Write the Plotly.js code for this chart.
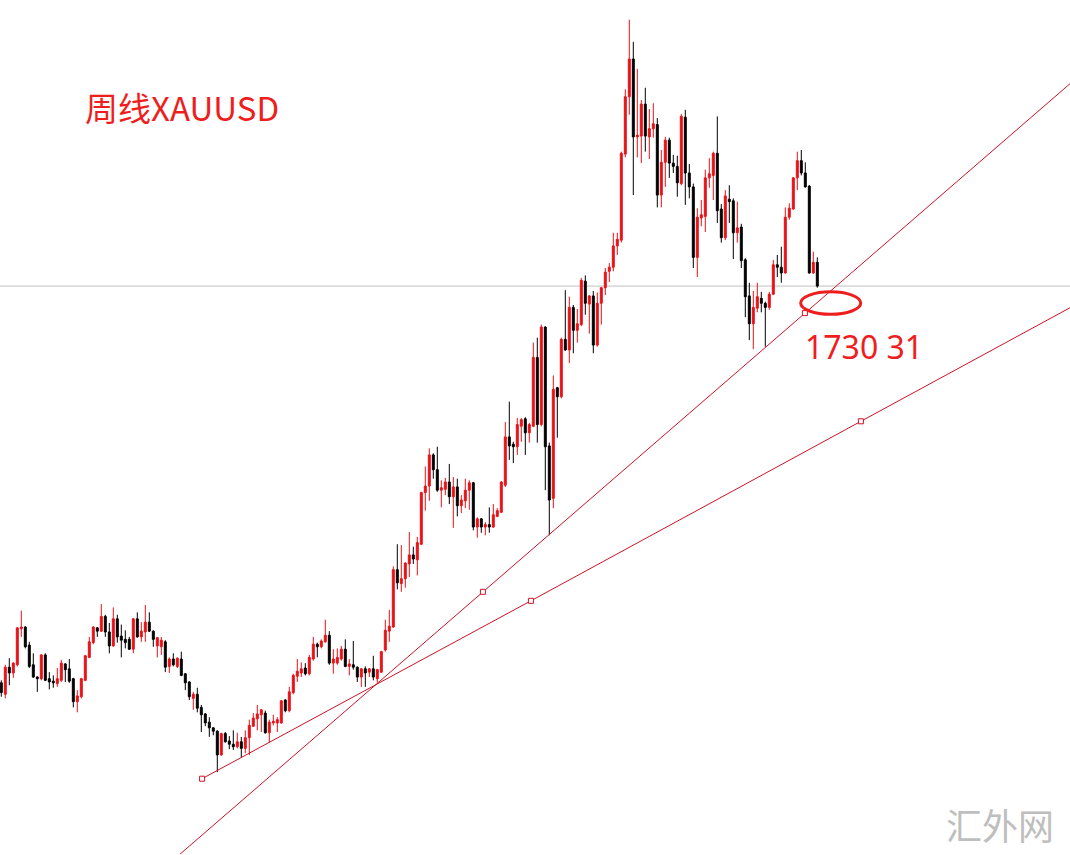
<!DOCTYPE html>
<html>
<head>
<meta charset="utf-8">
<script src="https://cdn.plot.ly/plotly-3.0.1.min.js"></script>
<style>
  html, body { margin: 0; padding: 0; background: #ffffff; }
  #chart { width: 1070px; height: 855px; }
</style>
</head>
<body>
<div id="chart"></div>
<script>
// Weekly XAUUSD candles (price)
const open = [
  1267,1253,1286,1279,1289,1333,1335,1313,1289,1274,
  1272,1301,1272,1269,1266,1270,1290,1284,1272,1244,
  1250,1270,1298,1316,1334,1330,1348,1329,1312,1345,
  1324,1320,1320,1308,1345,1323,1329,1341,1330,1312,
  1311,1317,1287,1296,1287,1296,1278,1268,1248,1253,
  1237,1229,1219,1212,1208,1179,1205,1196,1192,1189,
  1195,1187,1200,1214,1223,1228,1230,1206,1218,1218,
  1218,1246,1233,1255,1275,1279,1285,1278,1296,1314,
  1311,1317,1325,1291,1291,1296,1308,1287,1289,1286,
  1274,1284,1280,1284,1272,1280,1307,1330,1335,1405,
  1388,1394,1412,1423,1417,1436,1499,1507,1545,1527,
  1502,1503,1512,1494,1506,1483,1489,1502,1511,1457,
  1467,1457,1460,1457,1470,1475,1508,1567,1558,1555,
  1580,1589,1572,1580,1664,1582,1701,1556,1492,1627,
  1616,1686,1673,1725,1697,1704,1757,1729,1739,1679,
  1730,1749,1769,1774,1800,1807,1912,1982,2028,1933,
  1934,1973,1933,1943,1948,1862,1902,1929,1901,1897,
  1876,1957,1889,1872,1786,1834,1836,1883,1886,1913,
  1845,1810,1857,1855,1816,1823,1783,1739,1705,1724,
  1736,1730,1725,1741,1777,1774,1767,1835,1845,1883,
  1904,1889,1873,1767,1780
];
const high = [
  1270,1289,1297,1292,1335,1355,1336,1317,1303,1275,
  1302,1303,1280,1276,1285,1295,1291,1296,1273,1258,
  1273,1301,1323,1336,1335,1363,1350,1340,1359,1350,
  1338,1331,1323,1346,1353,1341,1362,1353,1331,1323,
  1323,1319,1298,1303,1298,1305,1279,1269,1256,1261,
  1240,1230,1225,1213,1209,1206,1207,1202,1209,1206,
  1201,1209,1222,1230,1240,1235,1233,1222,1228,1225,
  1246,1247,1262,1278,1296,1292,1291,1301,1323,1316,
  1320,1344,1330,1308,1309,1312,1320,1296,1318,1287,
  1285,1287,1285,1300,1284,1306,1344,1356,1409,1436,
  1435,1414,1451,1433,1445,1500,1531,1553,1547,1555,
  1514,1517,1534,1518,1516,1496,1516,1514,1512,1469,
  1468,1463,1481,1485,1480,1513,1585,1610,1561,1590,
  1590,1591,1584,1682,1688,1704,1702,1560,1642,1628,
  1688,1746,1738,1728,1723,1761,1764,1740,1745,1743,
  1750,1773,1779,1816,1816,1915,1991,2076,2049,2016,
  1978,1993,1967,1974,1956,1917,1933,1932,1911,1910,
  1961,1966,1900,1876,1846,1856,1893,1907,1915,1958,
  1851,1868,1874,1858,1854,1827,1785,1755,1745,1755,
  1744,1732,1744,1783,1789,1799,1847,1852,1884,1915,
  1917,1902,1874,1793,1786
];
const low = [
  1250,1248,1264,1273,1287,1323,1309,1285,1273,1256,
  1270,1269,1259,1261,1262,1268,1268,1267,1237,1231,
  1248,1269,1297,1314,1323,1329,1323,1303,1311,1316,
  1298,1309,1307,1303,1322,1317,1317,1329,1311,1298,
  1301,1280,1279,1287,1285,1275,1258,1246,1234,1231,
  1207,1214,1201,1203,1158,1178,1194,1186,1185,1187,
  1176,1181,1179,1213,1209,1207,1205,1194,1215,1207,
  1217,1231,1231,1253,1268,1274,1276,1276,1294,1298,
  1309,1316,1289,1278,1289,1294,1286,1276,1283,1268,
  1262,1262,1274,1270,1267,1279,1305,1317,1334,1381,
  1378,1383,1396,1412,1398,1435,1477,1489,1516,1500,
  1481,1496,1485,1456,1470,1474,1480,1478,1453,1444,
  1450,1447,1450,1456,1469,1474,1506,1539,1535,1545,
  1561,1545,1560,1579,1560,1580,1502,1447,1480,1566,
  1614,1672,1657,1669,1682,1702,1716,1693,1669,1677,
  1704,1740,1756,1769,1789,1804,1908,1960,1862,1908,
  1901,1915,1906,1932,1847,1847,1872,1883,1889,1860,
  1874,1850,1858,1773,1762,1824,1817,1871,1856,1828,
  1804,1807,1828,1784,1804,1773,1713,1685,1674,1719,
  1719,1677,1722,1740,1762,1755,1766,1832,1844,1868,
  1886,1871,1766,1766,1749
];
const close = [
  1255,1286,1279,1291,1334,1335,1311,1287,1274,1272,
  1301,1270,1268,1267,1272,1291,1283,1269,1244,1251,
  1272,1300,1317,1335,1330,1348,1329,1312,1345,1323,
  1319,1316,1308,1345,1323,1330,1341,1330,1320,1322,
  1319,1286,1296,1289,1297,1276,1267,1250,1253,1236,
  1228,1218,1212,1208,1179,1205,1195,1192,1189,1195,
  1187,1200,1215,1224,1229,1234,1206,1219,1220,1222,
  1245,1233,1256,1276,1281,1284,1278,1298,1314,1311,
  1318,1325,1291,1296,1298,1308,1287,1290,1286,1274,
  1284,1279,1284,1274,1283,1305,1331,1336,1405,1389,
  1394,1413,1423,1418,1438,1499,1507,1545,1527,1502,
  1505,1512,1494,1506,1483,1490,1502,1511,1457,1467,
  1457,1460,1457,1472,1477,1512,1567,1556,1555,1582,
  1588,1572,1582,1664,1582,1701,1555,1490,1625,1616,
  1686,1673,1725,1697,1705,1758,1730,1739,1679,1730,
  1749,1768,1774,1800,1808,1913,1982,2028,1933,1935,
  1973,1934,1943,1949,1862,1902,1929,1901,1897,1877,
  1958,1889,1872,1786,1835,1838,1883,1888,1913,1843,
  1810,1861,1854,1816,1822,1782,1738,1705,1725,1738,
  1730,1725,1741,1777,1774,1767,1835,1846,1883,1904,
  1889,1872,1767,1780,1751
];
const weeks = open.map((_, i) => i);

// Current price line
const bidPrice = 1751;

// Trend line 1 (steep): anchor points (week index, price)
const trend1X = [44.7, 120.4, 200.9, 267.2];
const trend1Y = [1058, 1378, 1718, 1998];
const trend1MarkX = [120.4, 200.9];
const trend1MarkY = [1378, 1718];

// Trend line 2 (shallow)
const trend2X = [50.2, 132.4, 214.9, 267.2];
const trend2Y = [1150, 1367, 1586, 1724.6];
const trend2MarkX = [50.2, 132.4, 214.9];
const trend2MarkY = [1150, 1367, 1586];

// Labels
const titleText = '周线XAUUSD';
const levelText = '1730 31';
const watermarkText = '汇外网';

const upColor = 'rgb(232,18,24)';
const downColor = '#000000';
const trendColor = 'rgb(205,18,38)';

const traces = [
  {
    type: 'scatter', mode: 'lines', x: trend1X, y: trend1Y,
    line: { color: trendColor, width: 1 }, hoverinfo: 'skip'
  },
  {
    type: 'scatter', mode: 'lines', x: trend2X, y: trend2Y,
    line: { color: trendColor, width: 1 }, hoverinfo: 'skip'
  },
  {
    type: 'candlestick', x: weeks, open: open, high: high, low: low, close: close,
    increasing: { line: { color: upColor, width: 1 }, fillcolor: upColor },
    decreasing: { line: { color: downColor, width: 1 }, fillcolor: downColor },
    whiskerwidth: 0
  },
  {
    type: 'scatter', mode: 'markers', x: trend1MarkX.concat(trend2MarkX), y: trend1MarkY.concat(trend2MarkY),
    marker: { symbol: 'square', size: 5, color: '#ffffff', line: { color: trendColor, width: 1 } },
    hoverinfo: 'skip'
  }
];

const layout = {
  width: 1070, height: 855,
  margin: { l: 0, r: 0, t: 0, b: 0 },
  paper_bgcolor: '#ffffff', plot_bgcolor: '#ffffff',
  showlegend: false,
  xaxis: { range: [-0.325, 267.175], visible: false, rangeslider: { visible: false }, fixedrange: true },
  yaxis: { range: [1056.9, 2100], visible: false, fixedrange: true },
  shapes: [
    { type: 'line', xref: 'paper', x0: 0, x1: 1, yref: 'y', y0: bidPrice, y1: bidPrice,
      line: { color: 'rgb(192,192,192)', width: 1 }, layer: 'below' },
    { type: 'circle', xref: 'paper', yref: 'paper',
      x0: 0.7483, x1: 0.8044, y0: 0.6324, y1: 0.6588,
      line: { color: 'rgb(238,30,30)', width: 3 } }
  ],
  annotations: [
    { text: titleText, xref: 'paper', yref: 'paper', x: 0.170, y: 0.8749,
      xanchor: 'center', yanchor: 'middle', showarrow: false,
      font: { family: 'Noto Sans CJK SC, Noto Sans, sans-serif', size: 33, color: 'rgb(238,30,30)' } },
    { text: levelText, xref: 'paper', yref: 'paper', x: 0.8075, y: 0.5953,
      xanchor: 'center', yanchor: 'middle', showarrow: false,
      font: { family: 'Noto Sans, Open Sans, sans-serif', size: 32, color: 'rgb(238,30,30)' } },
    { text: watermarkText, xref: 'paper', yref: 'paper', x: 0.9346, y: 0.0363,
      xanchor: 'center', yanchor: 'middle', showarrow: false,
      font: { family: 'Noto Sans CJK SC, sans-serif', size: 36, color: 'rgb(190,190,190)' } }
  ]
};

Plotly.newPlot('chart', traces, layout, { displayModeBar: false, staticPlot: true });
</script>
</body>
</html>
